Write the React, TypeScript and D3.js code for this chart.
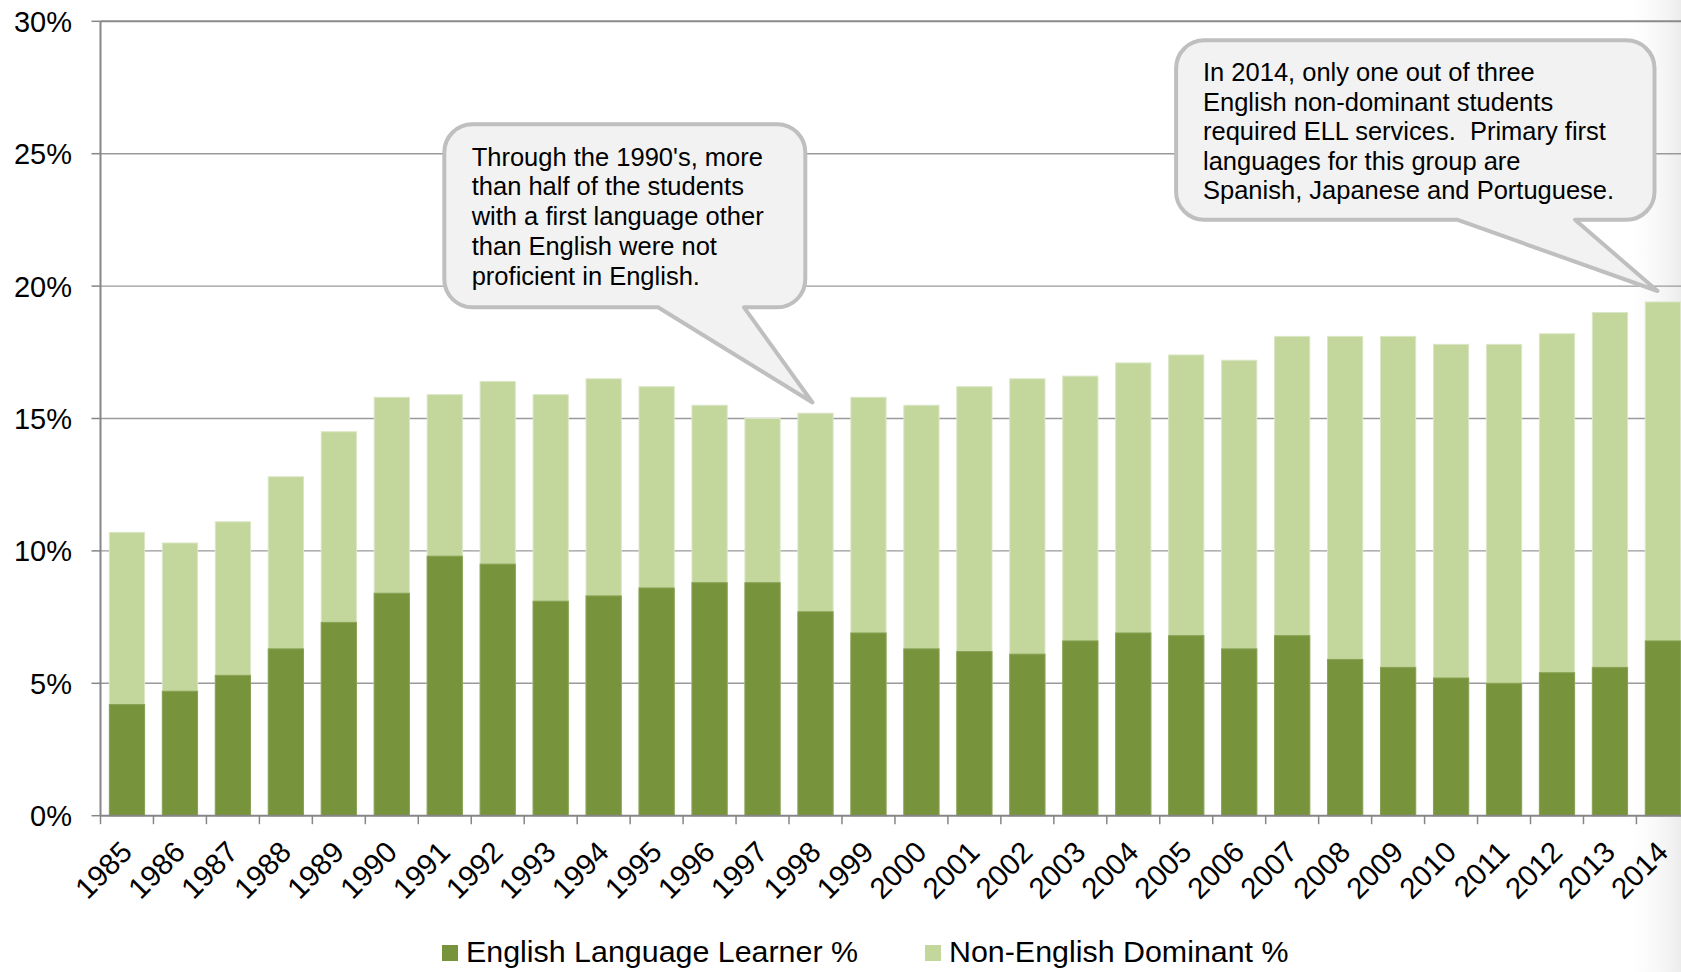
import React from "react";
import * as d3 from "d3";

// School years shown on the category axis
const years = [
  "1985", "1986", "1987", "1988", "1989", "1990", "1991", "1992", "1993", "1994",
  "1995", "1996", "1997", "1998", "1999", "2000", "2001", "2002", "2003", "2004",
  "2005", "2006", "2007", "2008", "2009", "2010", "2011", "2012", "2013", "2014",
];

// Share of students who are English Language Learners (%)
const ellPct = [
  4.2, 4.7, 5.3, 6.3, 7.3, 8.4, 9.8, 9.5, 8.1, 8.3,
  8.6, 8.8, 8.8, 7.7, 6.9, 6.3, 6.2, 6.1, 6.6, 6.9,
  6.8, 6.3, 6.8, 5.9, 5.6, 5.2, 5.0, 5.4, 5.6, 6.6,
];

// Share of students whose dominant language is not English (%)
const nonEnglishPct = [
  10.7, 10.3, 11.1, 12.8, 14.5, 15.8, 15.9, 16.4, 15.9, 16.5,
  16.2, 15.5, 15.0, 15.2, 15.8, 15.5, 16.2, 16.5, 16.6, 17.1,
  17.4, 17.2, 18.1, 18.1, 18.1, 17.8, 17.8, 18.2, 19.0, 19.4,
];

const yTicks = [0, 5, 10, 15, 20, 25, 30];

const seriesNames = ["English Language Learner %", "Non-English Dominant %"];

const callout1Lines = [
  "Through the 1990's, more",
  "than half of the students",
  "with a first language other",
  "than English were not",
  "proficient in English.",
];

const callout2Lines = [
  "In 2014, only one out of three",
  "English non-dominant students",
  "required ELL services.  Primary first",
  "languages for this group are",
  "Spanish, Japanese and Portuguese.",
];

const W = 1681;
const H = 972;
const FONT = "'Liberation Sans', Arial, Helvetica, sans-serif";
const DARK = "#77933C";
const LIGHT = "#C3D69B";

// Rounded speech bubble with a pointer leaving the bottom edge
function bubblePath(
  x0: number, y0: number, x1: number, y1: number, r: number,
  bLeft: number, bRight: number, tx: number, ty: number
) {
  return [
    `M${x0 + r},${y0}`,
    `H${x1 - r}`,
    `A${r},${r} 0 0 1 ${x1},${y0 + r}`,
    `V${y1 - r}`,
    `A${r},${r} 0 0 1 ${x1 - r},${y1}`,
    `H${bRight}`,
    `L${tx},${ty}`,
    `L${bLeft},${y1}`,
    `H${x0 + r}`,
    `A${r},${r} 0 0 1 ${x0},${y1 - r}`,
    `V${y0 + r}`,
    `A${r},${r} 0 0 1 ${x0 + r},${y0}`,
    "Z",
  ].join(" ");
}

export default function App() {
  const left = 100.5;
  const right = 1689.4;
  const top = 21.3;
  const bottom = 815.7;

  const x = d3
    .scaleBand<string>()
    .domain(years)
    .range([left, right])
    .paddingInner(0.335)
    .paddingOuter(0.1675);
  const y = d3.scaleLinear().domain([0, 30]).range([bottom, top]);

  const step = x.step();
  const bw = x.bandwidth();
  const gapHalf = (step - bw) / 2;
  const boundaries = years.map((d) => (x(d) as number) - gapHalf);
  boundaries.push((x(years[years.length - 1]) as number) + bw + gapHalf);

  const data = years.map((yr, i) => ({ yr, ell: ellPct[i], ned: nonEnglishPct[i] }));

  return (
    <svg
      width={W}
      height={H}
      viewBox={`0 0 ${W} ${H}`}
      style={{ position: "absolute", left: 0, top: 0, fontFamily: FONT }}
    >
      <defs>
        <linearGradient id="edgeShade" x1="0" x2="1" y1="0" y2="0">
          <stop offset="0" stopColor="#ffffff" stopOpacity={0} />
          <stop offset="1" stopColor="#ececec" stopOpacity={1} />
        </linearGradient>
        <clipPath id="page">
          <rect x={0} y={0} width={W} height={H} />
        </clipPath>
      </defs>
      <rect x={0} y={0} width={W} height={H} fill="#ffffff" />
      <rect x={1620} y={0} width={W - 1620} height={H} fill="url(#edgeShade)" />

      <g clipPath="url(#page)">
        {/* horizontal gridlines */}
        {yTicks.filter((t) => t > 0).map((t) => (
          <line
            key={`g${t}`}
            x1={left}
            x2={right}
            y1={y(t)}
            y2={y(t)}
            stroke={t === 30 ? "#8a8a8a" : "#9a9a9a"}
            strokeWidth={t === 30 ? 2 : 1.4}
          />
        ))}

        {/* non-English dominant bars, with the ELL share overlaid */}
        {data.map((d) => (
          <g key={d.yr}>
            <rect
              x={x(d.yr)}
              y={y(d.ned)}
              width={bw}
              height={y(0) - y(d.ned)}
              fill={LIGHT}
              stroke="#dbe6c6"
              strokeWidth={1}
            />
            <rect
              x={x(d.yr)}
              y={y(d.ell)}
              width={bw}
              height={y(0) - y(d.ell)}
              fill={DARK}
              stroke="#88a356"
              strokeWidth={1}
            />
          </g>
        ))}

        {/* axes */}
        <line x1={left} x2={left} y1={top} y2={bottom} stroke="#868686" strokeWidth={2} />
        <line x1={left} x2={right} y1={bottom} y2={bottom} stroke="#868686" strokeWidth={2} />
        {yTicks.map((t) => (
          <line key={`yt${t}`} x1={left - 9} x2={left} y1={y(t)} y2={y(t)} stroke="#868686" strokeWidth={1.5} />
        ))}
        {boundaries.map((b, i) => (
          <line key={`xt${i}`} x1={b} x2={b} y1={bottom} y2={bottom + 8.5} stroke="#868686" strokeWidth={1.5} />
        ))}

        {/* y tick labels */}
        {yTicks.map((t) => (
          <text
            key={`yl${t}`}
            x={72}
            y={y(t)}
            dy="0.36em"
            textAnchor="end"
            fontSize={29}
            fill="#000"
          >
            {`${t}%`}
          </text>
        ))}

        {/* year labels */}
        {years.map((yr) => {
          const cx = (x(yr) as number) + bw / 2;
          return (
            <text
              key={`xl${yr}`}
              transform={`translate(${cx + 7},${854}) rotate(-45)`}
              textAnchor="end"
              fontSize={29.5}
              fill="#000"
            >
              {yr}
            </text>
          );
        })}

        {/* callouts */}
        <path
          d={bubblePath(444.3, 124.3, 805.3, 307.3, 28, 658, 744, 812.5, 402.5)}
          fill="#F2F2F2"
          stroke="#BFBFBF"
          strokeWidth={4}
          strokeLinejoin="round"
        />
        {callout1Lines.map((ln, i) => (
          <text key={`c1${i}`} x={471.7} y={165.7 + i * 29.7} fontSize={25.5} fill="#000" style={{ whiteSpace: "pre" }}>
            {ln}
          </text>
        ))}

        <path
          d={bubblePath(1176.1, 40.3, 1654.5, 219.7, 28, 1457, 1575, 1657.5, 291)}
          fill="#F2F2F2"
          stroke="#BFBFBF"
          strokeWidth={4}
          strokeLinejoin="round"
        />
        {callout2Lines.map((ln, i) => (
          <text key={`c2${i}`} x={1203} y={81 + i * 29.6} fontSize={25.5} fill="#000" style={{ whiteSpace: "pre" }}>
            {ln}
          </text>
        ))}

        {/* legend */}
        <rect x={442} y={945} width={16} height={16} fill={DARK} />
        <text x={466} y={962} fontSize={30.4} fill="#000">{seriesNames[0]}</text>
        <rect x={925} y={945} width={16} height={16} fill={LIGHT} />
        <text x={949} y={962} fontSize={30.4} fill="#000">{seriesNames[1]}</text>
      </g>
    </svg>
  );
}
